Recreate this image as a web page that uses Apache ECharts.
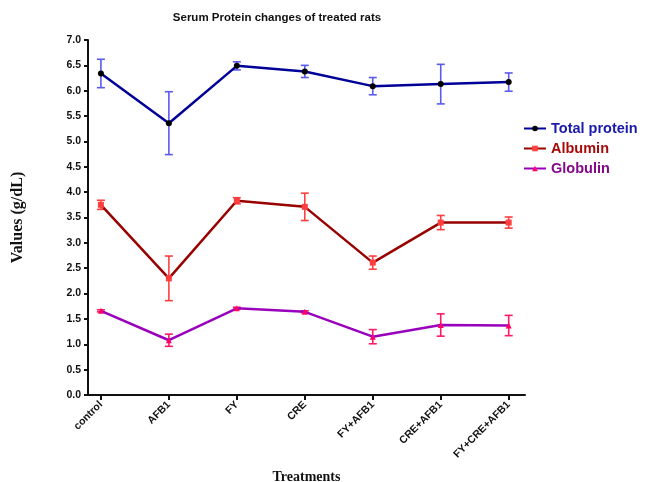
<!DOCTYPE html>
<html>
<head>
<meta charset="utf-8">
<script src="https://cdn.jsdelivr.net/npm/echarts@6/dist/echarts.min.js"></script>
<style>html,body{margin:0;padding:0;background:#fff;}#c{width:656px;height:482px;}</style>
</head>
<body>
<div id="c"></div>
<script>
const categories = ['control', 'AFB1', 'FY', 'CRE', 'FY+AFB1', 'CRE+AFB1', 'FY+CRE+AFB1'];
const totalProtein = [6.34, 5.36, 6.49, 6.38, 6.09, 6.13, 6.17];
const totalProteinErr = [0.28, 0.62, 0.08, 0.12, 0.17, 0.39, 0.18];
const albumin = [3.75, 2.30, 3.83, 3.71, 2.61, 3.40, 3.40];
const albuminErr = [0.09, 0.44, 0.06, 0.27, 0.13, 0.14, 0.11];
const globulin = [1.66, 1.08, 1.71, 1.64, 1.15, 1.38, 1.37];
const globulinErr = [0.02, 0.12, 0.02, 0.02, 0.14, 0.22, 0.20];
const seriesNames = ['Total protein', 'Albumin', 'Globulin'];

const idx = categories.map((c, i) => i);
function pts(vals) { return vals.map((v, i) => [i, v]); }
function errPts(vals, errs) { return vals.map((v, i) => [i, v, errs[i]]); }

function errRender(color) {
  return function (params, api) {
    const x = api.value(0), y = api.value(1), e = api.value(2);
    const top = api.coord([x, y + e]);
    const bot = api.coord([x, y - e]);
    const w = 4;
    const st = { stroke: color, lineWidth: 1.6 };
    return {
      type: 'group',
      children: [
        { type: 'line', shape: { x1: top[0], y1: top[1], x2: bot[0], y2: bot[1] }, style: st },
        { type: 'line', shape: { x1: top[0] - w, y1: top[1], x2: top[0] + w, y2: top[1] }, style: st },
        { type: 'line', shape: { x1: bot[0] - w, y1: bot[1], x2: bot[0] + w, y2: bot[1] }, style: st }
      ]
    };
  };
}

const chart = echarts.init(document.getElementById('c'));
const labelFont = { fontFamily: 'Liberation Sans, Arial', fontWeight: 'bold', fontSize: 10.5, color: '#111' };
chart.setOption({
  animation: false,
  backgroundColor: '#fff',
  title: {
    text: 'Serum Protein changes of treated rats',
    left: 272, top: 7, textAlign: 'center',
    textStyle: { fontFamily: 'Liberation Sans, Arial', fontWeight: 'bold', fontSize: 11.5, color: '#111' }
  },
  legend: {
    orient: 'vertical',
    left: 518, top: 116,
    itemWidth: 22, itemHeight: 7, itemGap: 5,
    data: [
      { name: seriesNames[0], textStyle: { color: '#1a1aa8' } },
      { name: seriesNames[1], textStyle: { color: '#a80a0a' } },
      { name: seriesNames[2], textStyle: { color: '#820a8a' } }
    ],
    textStyle: { fontFamily: 'Liberation Sans, Arial', fontWeight: 'bold', fontSize: 14.5 }
  },
  grid: { left: 88, right: 131, top: 40, bottom: 87, containLabel: false, outerBoundsMode: 'none' },
  xAxis: {
    type: 'value',
    min: -0.19, max: 6.24,
    name: 'Treatments',
    nameLocation: 'middle',
    nameGap: 75,
    nameTextStyle: { fontFamily: 'Liberation Serif, Times New Roman', fontWeight: 'bold', fontSize: 14, color: '#111' },
    axisLine: { show: true, onZero: false, lineStyle: { color: '#111', width: 2 } },
    axisTick: { show: true, length: 5, lineStyle: { color: '#111', width: 2 }, customValues: idx },
    axisLabel: Object.assign({ rotate: 45, margin: 8, customValues: idx, formatter: v => categories[Math.round(v)] }, labelFont),
    splitLine: { show: false }
  },
  yAxis: {
    type: 'value',
    min: 0, max: 7, interval: 0.5,
    name: 'Values (g/dL)',
    nameLocation: 'middle',
    nameGap: 62,
    nameTextStyle: { fontFamily: 'Liberation Serif, Times New Roman', fontWeight: 'bold', fontSize: 16, color: '#111' },
    axisLine: { show: true, onZero: false, lineStyle: { color: '#111', width: 2 } },
    axisTick: { show: true, length: 4, lineStyle: { color: '#111', width: 2 } },
    axisLabel: Object.assign({ margin: 7, formatter: v => v.toFixed(1) }, labelFont),
    splitLine: { show: false }
  },
  series: [
    { type: 'custom', name: 'tpErr', data: errPts(totalProtein, totalProteinErr), renderItem: errRender('#5a5af0'), z: 1, encode: { x: 0, y: 1 } },
    { type: 'custom', name: 'alErr', data: errPts(albumin, albuminErr), renderItem: errRender('#ff4040'), z: 1, encode: { x: 0, y: 1 } },
    { type: 'custom', name: 'glErr', data: errPts(globulin, globulinErr), renderItem: errRender('#ff1a66'), z: 1, encode: { x: 0, y: 1 } },
    {
      type: 'line', name: seriesNames[0], data: pts(totalProtein), z: 3,
      lineStyle: { color: '#000099', width: 2.5 },
      itemStyle: { color: '#000' }, symbol: 'circle', symbolSize: 6
    },
    {
      type: 'line', name: seriesNames[1], data: pts(albumin), z: 3,
      lineStyle: { color: '#990000', width: 2.5 },
      itemStyle: { color: '#ff4040' }, symbol: 'rect', symbolSize: 6
    },
    {
      type: 'line', name: seriesNames[2], data: pts(globulin), z: 3,
      lineStyle: { color: '#9900bb', width: 2.5 },
      itemStyle: { color: '#ff0066' }, symbol: 'triangle', symbolSize: 6
    }
  ]
});
</script>
</body>
</html>
